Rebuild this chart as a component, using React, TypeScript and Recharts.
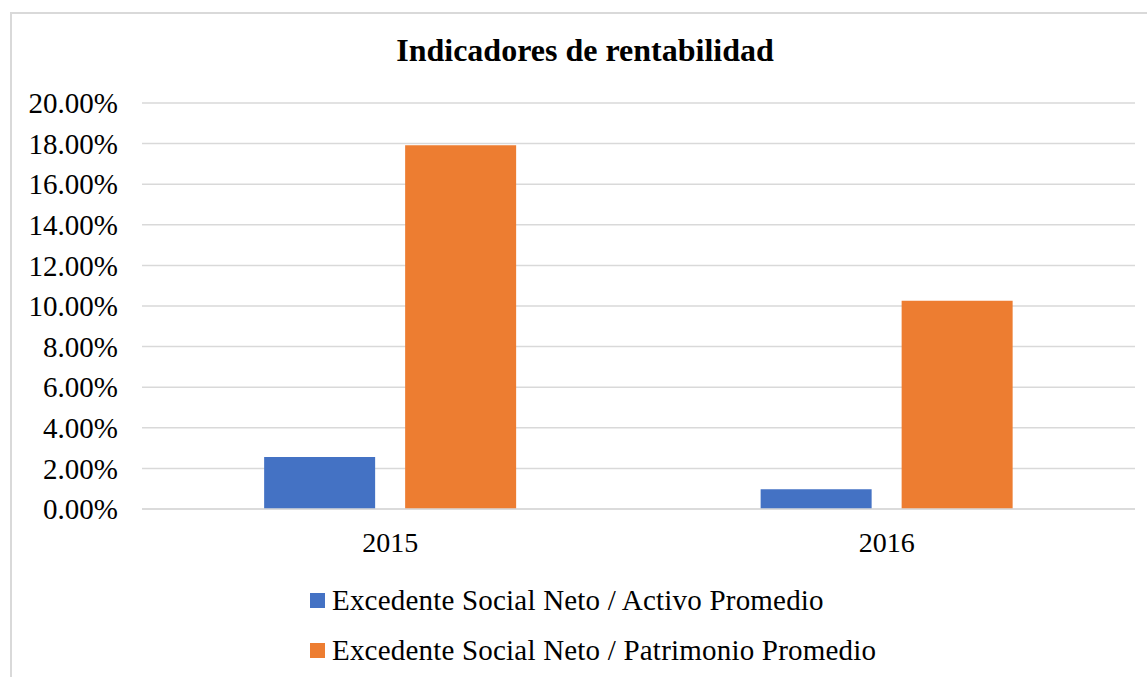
import React from 'react';
import { BarChart, Bar, XAxis, YAxis, CartesianGrid, Legend } from 'recharts';

const years = ['2015', '2016'];
const activoPromedio = [0.0256, 0.0097];
const patrimonioPromedio = [0.1792, 0.1026];
const yTicks = [0, 0.02, 0.04, 0.06, 0.08, 0.1, 0.12, 0.14, 0.16, 0.18, 0.2];

const SERIES = [
  { key: 'activo', name: 'Excedente Social Neto / Activo Promedio', color: '#4472C4' },
  { key: 'patrimonio', name: 'Excedente Social Neto / Patrimonio Promedio', color: '#ED7D31' },
];

const data = years.map((year, i) => ({
  year,
  activo: activoPromedio[i],
  patrimonio: patrimonioPromedio[i],
}));

const FONT = 'Liberation Serif';

const LegendContent = () => (
  <div style={{ height: 100, fontFamily: FONT, fontSize: 29, letterSpacing: 0.2, color: '#000' }}>
    {SERIES.map((s) => (
      <div key={s.key} style={{ height: 50, display: 'flex', alignItems: 'center' }}>
        <span style={{ width: 15, height: 15, background: s.color, marginRight: 7, display: 'inline-block' }} />
        <span style={{ whiteSpace: 'nowrap' }}>{s.name}</span>
      </div>
    ))}
  </div>
);

export default function App() {
  return (
    <div
      style={{
        position: 'absolute',
        left: 0,
        top: 0,
        width: 1147,
        height: 677,
        overflow: 'hidden',
        background: '#fff',
      }}
    >
      <div
        style={{
          position: 'absolute',
          left: 10,
          top: 12,
          width: 1170,
          height: 700,
          border: '2px solid #d9d9d9',
        }}
      />
      <div
        style={{
          position: 'absolute',
          left: 0,
          width: 1170,
          top: 32,
          textAlign: 'center',
          fontFamily: FONT,
          fontWeight: 'bold',
          fontSize: 32,
          color: '#000',
        }}
      >
        Indicadores de rentabilidad
      </div>
      <div style={{ position: 'absolute', left: 0, top: 0 }}>
        <BarChart
          width={1147}
          height={677}
          data={data}
          margin={{ top: 103, right: 12, bottom: 2, left: 0 }}
          barCategoryGap="24.6%"
          barGap={30}
        >
          <CartesianGrid vertical={false} stroke="#d9d9d9" strokeWidth={1.5} />
          <XAxis
            dataKey="year"
            height={66}
            tickLine={false}
            tickSize={0}
            tickMargin={23}
            axisLine={{ stroke: '#d9d9d9', strokeWidth: 1.5 }}
            tick={{ fill: '#000', fontSize: 28, fontFamily: FONT }}
          />
          <YAxis
            width={142}
            domain={[0, 0.2]}
            ticks={yTicks}
            interval={0}
            axisLine={false}
            tickLine={false}
            tickSize={0}
            tickMargin={24}
            tickFormatter={(v: number) => `${(v * 100).toFixed(2)}%`}
            tick={{ fill: '#000', fontSize: 29, fontFamily: FONT }}
          />
          <Legend
            layout="vertical"
            verticalAlign="bottom"
            align="center"
            content={<LegendContent />}
            wrapperStyle={{ left: 310, bottom: 2, width: 700, height: 100 }}
          />
          {SERIES.map((s) => (
            <Bar key={s.key} dataKey={s.key} name={s.name} fill={s.color} isAnimationActive={false} />
          ))}
        </BarChart>
      </div>
    </div>
  );
}
